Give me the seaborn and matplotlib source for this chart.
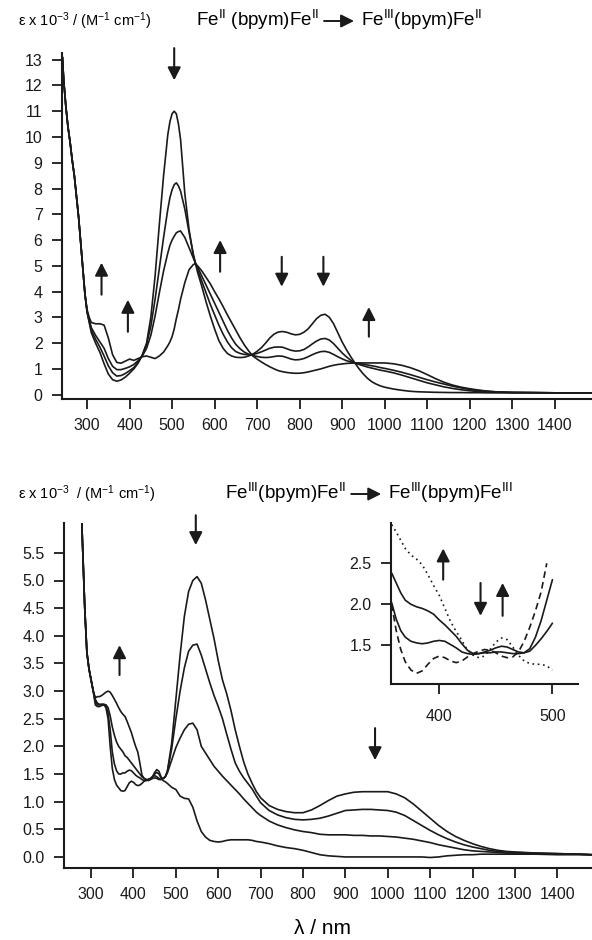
import numpy as np
import pandas as pd
import matplotlib
matplotlib.use("Agg")
import matplotlib.pyplot as plt
import seaborn as sns
from matplotlib.patches import FancyArrowPatch
from matplotlib.ticker import FormatStrFormatter

# ---------------- data: top panel (Fe(II)Fe(II) -> Fe(III)Fe(II)) ----------------
TOP_WL = [242, 245, 250, 255, 260, 265, 270, 275, 280, 285, 290, 295,
          300, 305, 310, 320, 330, 340, 350, 360, 370, 380, 390, 400, 410, 420, 430,
          440, 450, 460, 470, 480, 490, 495, 500, 505, 510, 515, 520, 530, 540, 550, 555,
          560, 570, 580, 590, 600, 610, 620, 630, 640, 650, 660, 670, 680, 690,
          700, 710, 720, 730, 740, 750, 760, 770, 780, 790, 800, 810, 820, 830, 840, 850,
          860, 870, 880, 890, 900, 910, 920, 930, 940, 950, 960, 970, 980, 990, 1000,
          1020, 1040, 1060, 1080, 1100, 1120, 1140, 1160, 1180, 1200, 1220, 1240, 1260, 1280, 1300,
          1350, 1400, 1450, 1488]
TOP_UV = [13.1, 12.2, 11.2, 10.4, 9.8, 9.1, 8.5, 7.7, 6.9, 5.9, 4.9, 3.9]

top_a = TOP_UV + [3.2, 2.8, 2.4, 2.0, 1.65, 1.2, 0.8, 0.58, 0.52, 0.57, 0.68, 0.83, 1.0, 1.22, 1.55,
                  2.0, 3.0, 4.6, 6.6, 8.5, 10.1, 10.6, 10.9, 11.0, 10.9, 10.5, 9.9, 7.8, 6.4, 5.4, 5.1,
                  4.75, 4.2, 3.6, 3.05, 2.55, 2.1, 1.8, 1.6, 1.5, 1.45, 1.44, 1.45, 1.5, 1.57,
                  1.68, 1.82, 2.0, 2.2, 2.35, 2.43, 2.45, 2.42, 2.36, 2.32, 2.34, 2.42, 2.55, 2.75, 2.95, 3.08,
                  3.12, 3.0, 2.75, 2.4, 2.05, 1.75, 1.48, 1.23, 1.0, 0.8, 0.63, 0.5, 0.41, 0.34, 0.29,
                  0.22, 0.17, 0.13, 0.11, 0.1, 0.09, 0.085, 0.08, 0.08, 0.075, 0.075, 0.07, 0.07, 0.07, 0.07,
                  0.07, 0.07, 0.07, 0.07]
top_b = TOP_UV + [3.22, 2.85, 2.5, 2.15, 1.85, 1.5, 1.12, 0.85, 0.72, 0.74, 0.82, 0.93, 1.05, 1.25, 1.52,
                  1.95, 2.65, 3.7, 4.9, 6.1, 7.2, 7.65, 7.95, 8.15, 8.22, 8.1, 7.9, 7.2, 6.3, 5.45, 5.1,
                  4.85, 4.4, 3.95, 3.5, 3.1, 2.7, 2.35, 2.05, 1.82, 1.67, 1.6, 1.56, 1.55, 1.56,
                  1.6, 1.66, 1.73, 1.8, 1.84, 1.85, 1.84, 1.78, 1.72, 1.69, 1.7, 1.75, 1.85, 1.97, 2.08, 2.16,
                  2.18, 2.12, 1.98, 1.8, 1.62, 1.47, 1.34, 1.23, 1.17, 1.12, 1.07, 1.03, 0.99, 0.95, 0.92,
                  0.85, 0.76, 0.66, 0.56, 0.46, 0.38, 0.3, 0.24, 0.19, 0.15, 0.12, 0.1, 0.09, 0.085, 0.08,
                  0.075, 0.07, 0.07, 0.07]
top_c = TOP_UV + [3.24, 2.9, 2.6, 2.3, 2.05, 1.8, 1.4, 1.1, 0.97, 0.97, 1.02, 1.08, 1.17, 1.32, 1.5,
                  1.8, 2.3, 3.05, 3.95, 4.8, 5.5, 5.8, 6.0, 6.15, 6.28, 6.33, 6.35, 6.1, 5.7, 5.3, 5.1,
                  4.95, 4.6, 4.25, 3.9, 3.55, 3.2, 2.85, 2.5, 2.2, 1.95, 1.78, 1.65, 1.57, 1.52,
                  1.48, 1.45, 1.44, 1.45, 1.48, 1.5, 1.49, 1.44, 1.38, 1.35, 1.36, 1.4, 1.47, 1.55, 1.62, 1.67,
                  1.68, 1.64, 1.56, 1.47, 1.39, 1.32, 1.27, 1.23, 1.21, 1.18, 1.15, 1.12, 1.09, 1.05, 1.02,
                  0.95, 0.87, 0.78, 0.68, 0.58, 0.49, 0.41, 0.33, 0.26, 0.2, 0.16, 0.13, 0.11, 0.095, 0.085,
                  0.08, 0.07, 0.07, 0.07]
top_d = TOP_UV + [3.3, 3.0, 2.8, 2.75, 2.75, 2.7, 2.2, 1.55, 1.25, 1.22, 1.3, 1.38, 1.33, 1.4, 1.47,
                  1.5, 1.45, 1.4, 1.5, 1.65, 1.9, 2.05, 2.25, 2.55, 2.95, 3.3, 3.7, 4.35, 4.85, 5.05, 5.08,
                  5.0, 4.8, 4.55, 4.3, 4.0, 3.72, 3.42, 3.1, 2.8, 2.5, 2.2, 1.93, 1.7, 1.5,
                  1.38, 1.27, 1.17, 1.08, 1.0, 0.93, 0.89, 0.86, 0.84, 0.83, 0.83, 0.85, 0.88, 0.92, 0.96, 1.0,
                  1.05, 1.1, 1.14, 1.17, 1.19, 1.21, 1.22, 1.23, 1.23, 1.23, 1.23, 1.23, 1.23, 1.23, 1.23,
                  1.2, 1.14, 1.05, 0.93, 0.78, 0.62, 0.48, 0.37, 0.29, 0.23, 0.18, 0.14, 0.11, 0.1, 0.09,
                  0.08, 0.07, 0.07, 0.07]

# ---------------- data: bottom panel (Fe(III)Fe(II) -> Fe(III)Fe(III)) ----------------
BOT_WL = [276, 280, 285, 290, 295, 300, 305,
          310, 315, 320, 325, 330, 335, 340, 345, 350, 355, 360, 365, 370, 375, 380, 385, 390, 395,
          400, 405, 410, 415, 420, 425, 430, 435, 440, 445, 450, 455, 460, 465, 470, 475, 480,
          490, 500, 510, 520, 530, 540, 550, 560, 570, 580, 590, 600, 610, 620, 630, 640, 650, 660,
          670, 680, 690, 700,
          720, 740, 760, 780, 800, 820, 840, 860, 880, 900, 920, 940, 960, 980, 1000, 1020, 1040,
          1060, 1080, 1100, 1120, 1140, 1160, 1180, 1200, 1220, 1240, 1260, 1280, 1300,
          1350, 1400, 1450, 1482]
BOT_UV = [6.5, 5.6, 4.5, 3.7, 3.4, 3.2, 3.0]

bot_p = BOT_UV + [2.88, 2.9, 2.9, 2.92, 2.95, 2.98, 3.0, 2.98, 2.92, 2.85, 2.78, 2.7, 2.63, 2.58, 2.54,
                  2.45, 2.35, 2.25, 2.12, 2.0, 1.9, 1.7, 1.48, 1.42, 1.4, 1.38, 1.4, 1.42, 1.43, 1.42,
                  1.4, 1.4, 1.42, 1.45, 1.55,
                  2.05, 2.85, 3.65, 4.35, 4.8, 5.0, 5.07, 4.95, 4.65, 4.3, 3.95, 3.55, 3.2, 2.95, 2.65,
                  2.3, 2.0, 1.72, 1.5, 1.33, 1.18, 1.07,
                  0.93, 0.86, 0.82, 0.8, 0.8, 0.85, 0.93, 1.02, 1.1, 1.14, 1.17, 1.18, 1.18, 1.18, 1.18,
                  1.14, 1.07, 0.96, 0.83, 0.7, 0.57, 0.46, 0.37, 0.3, 0.24, 0.19, 0.15, 0.12, 0.1, 0.09,
                  0.07, 0.06, 0.05, 0.04]
bot_q = BOT_UV + [2.85, 2.78, 2.76, 2.76, 2.76, 2.75, 2.7, 2.55, 2.35, 2.2, 2.08, 2.0, 1.95, 1.9, 1.83,
                  1.8, 1.75, 1.7, 1.65, 1.6, 1.55, 1.5, 1.45, 1.42, 1.4, 1.4, 1.42, 1.45, 1.5, 1.53,
                  1.5, 1.43, 1.42, 1.45, 1.55,
                  1.95, 2.5, 3.0, 3.42, 3.72, 3.83, 3.85, 3.65, 3.4, 3.15, 2.92, 2.72, 2.5, 2.22, 1.95,
                  1.7, 1.55, 1.43, 1.33, 1.23, 1.1, 0.98,
                  0.84, 0.76, 0.71, 0.68, 0.67, 0.68, 0.7, 0.74, 0.79, 0.84, 0.85, 0.86, 0.86, 0.85, 0.84,
                  0.81, 0.75, 0.66, 0.57, 0.48, 0.4, 0.33, 0.27, 0.22, 0.18, 0.15, 0.12, 0.1, 0.09, 0.08,
                  0.07, 0.06, 0.05, 0.04]
bot_r = BOT_UV + [2.8, 2.75, 2.75, 2.76, 2.76, 2.74, 2.6, 2.3, 1.9, 1.68, 1.56, 1.5, 1.5, 1.52, 1.52,
                  1.55, 1.57, 1.56, 1.52, 1.48, 1.45, 1.43, 1.4, 1.38, 1.38, 1.4, 1.42, 1.45, 1.47, 1.45,
                  1.42, 1.4, 1.42, 1.45, 1.52,
                  1.75, 1.98, 2.15, 2.3, 2.4, 2.42, 2.3, 2.0, 1.88, 1.76, 1.64, 1.55, 1.46, 1.38, 1.3,
                  1.22, 1.14, 1.05, 0.97, 0.89, 0.81, 0.75,
                  0.65, 0.58, 0.53, 0.49, 0.46, 0.44, 0.41, 0.4, 0.4, 0.4, 0.39, 0.39, 0.38, 0.38, 0.37,
                  0.36, 0.34, 0.32, 0.29, 0.26, 0.22, 0.19, 0.16, 0.13, 0.11, 0.1, 0.09, 0.08, 0.07, 0.07,
                  0.06, 0.05, 0.05, 0.04]
bot_s = BOT_UV + [2.75, 2.72, 2.72, 2.74, 2.75, 2.7, 2.5, 2.0, 1.6, 1.4, 1.3, 1.25, 1.2, 1.19, 1.2,
                  1.27, 1.34, 1.37, 1.35, 1.31, 1.29, 1.3, 1.33, 1.37, 1.39, 1.4, 1.41, 1.45, 1.53, 1.58,
                  1.55, 1.45, 1.38, 1.36, 1.33,
                  1.26, 1.22, 1.1, 1.06, 1.05, 0.9, 0.65, 0.46, 0.36, 0.3, 0.28, 0.27, 0.28, 0.3, 0.31,
                  0.31, 0.31, 0.31, 0.31, 0.3, 0.28, 0.27,
                  0.24, 0.2, 0.17, 0.15, 0.12, 0.08, 0.04, 0.02, 0.01, 0.0, 0.0, 0.0, 0.0, 0.0, 0.0,
                  0.0, 0.0, 0.0, 0.0, -0.01, 0.0, 0.02, 0.03, 0.04, 0.04, 0.05, 0.05, 0.05, 0.05, 0.05,
                  0.05, 0.04, 0.04, 0.04]

# ---------------- data: inset ----------------
INS_WL = [358, 362, 366, 370, 375, 380, 385, 390, 395, 400, 405, 410, 415, 420, 425,
          430, 435, 440, 445, 450, 455, 460, 465, 470, 475, 480, 485, 490, 495, 500]
ins_dotted = [2.97, 2.88, 2.78, 2.68, 2.6, 2.55, 2.48, 2.36, 2.23, 2.11, 1.95, 1.79, 1.67, 1.56, 1.44,
              1.38, 1.35, 1.37, 1.45, 1.54, 1.59, 1.57, 1.48, 1.38, 1.31, 1.28, 1.27, 1.27, 1.25, 1.2]
ins_solid1 = [2.38, 2.26, 2.14, 2.05, 2.0, 1.97, 1.95, 1.92, 1.88, 1.81, 1.75, 1.68, 1.61, 1.52, 1.44,
              1.4, 1.4, 1.41, 1.41, 1.42, 1.42, 1.41, 1.4, 1.4, 1.41, 1.43, 1.5, 1.58, 1.67, 1.77]
ins_solid2 = [2.02, 1.82, 1.68, 1.6, 1.55, 1.53, 1.52, 1.53, 1.55, 1.56, 1.55, 1.51, 1.47, 1.42, 1.4,
              1.39, 1.4, 1.42, 1.44, 1.47, 1.49, 1.48, 1.45, 1.42, 1.41, 1.46, 1.6, 1.8, 2.05, 2.3]
ins_dashed = [2.0, 1.68, 1.45, 1.3, 1.2, 1.16, 1.19, 1.27, 1.34, 1.37, 1.35, 1.31, 1.29, 1.31, 1.36,
              1.4, 1.43, 1.45, 1.44, 1.41, 1.37, 1.35, 1.36, 1.42, 1.55, 1.72, 1.92, 2.15, 2.5, np.nan]

TOP_XTICKS = list(range(300, 1500, 100))
TOP_YTICKS = list(range(0, 14))
BOT_YTICKS = [0.0, 0.5, 1.0, 1.5, 2.0, 2.5, 3.0, 3.5, 4.0, 4.5, 5.0, 5.5]
INS_XTICKS = [400, 500]
INS_YTICKS = [1.5, 2.0, 2.5]

# arrows: (wavelength, tail, head)
TOP_ARROWS = [(505, 13.45, 12.2), (334, 3.88, 5.12), (396, 2.44, 3.68), (613, 4.77, 6.0),
              (758, 5.35, 4.19), (856, 5.35, 4.19), (963, 2.25, 3.4)]
BOT_ARROWS = [(367, 3.29, 3.83), (547, 6.18, 5.64), (970, 2.33, 1.75)]
INS_ARROWS = [(403.5, 2.3, 2.68), (436.5, 2.26, 1.86), (456, 1.86, 2.26)]

# ---------------- style ----------------
sns.set_theme(style="ticks")
plt.rcParams["font.family"] = ["Liberation Sans", "DejaVu Sans"]
plt.rcParams["mathtext.fontset"] = "custom"
plt.rcParams["mathtext.rm"] = "Liberation Sans"
plt.rcParams["mathtext.it"] = "Liberation Sans:italic"
plt.rcParams["mathtext.bf"] = "Liberation Sans:bold"
plt.rcParams["mathtext.default"] = "regular"
plt.rcParams["text.color"] = "black"
plt.rcParams["axes.labelcolor"] = "black"
plt.rcParams["xtick.color"] = "black"
plt.rcParams["ytick.color"] = "black"

W, H = 592, 940
fig = plt.figure(figsize=(W / 100, H / 100), dpi=100)
fig.patch.set_facecolor("white")


def px_axes(l, t, r, b):
    return fig.add_axes([l / W, 1 - b / H, (r - l) / W, (b - t) / H])


ax1 = px_axes(62, 53, 592, 398.5)
ax2 = px_axes(64, 523, 592, 868)
axi = px_axes(391, 523, 578, 684)


def style(ax, lw=1.5, labelsize=11.5):
    ax.set_facecolor("none")
    ax.grid(False)
    for s in ["top", "right"]:
        ax.spines[s].set_visible(False)
    for s in ["left", "bottom"]:
        ax.spines[s].set_linewidth(lw)
        ax.spines[s].set_color("k")
    ax.tick_params(direction="out", length=7, width=1.3, pad=7, labelsize=labelsize,
                   colors="k", labelcolor="k")
    ax.set_xlabel("")
    ax.set_ylabel("")


LW = 1.2

top_df = pd.DataFrame({
    "wl": TOP_WL * 4,
    "eps": top_a + top_b + top_c + top_d,
    "spec": ["a"] * len(TOP_WL) + ["b"] * len(TOP_WL) + ["c"] * len(TOP_WL) + ["d"] * len(TOP_WL),
})
sns.lineplot(data=top_df, x="wl", y="eps", units="spec", estimator=None, color="k",
             lw=LW, ax=ax1, legend=False)

bot_df = pd.DataFrame({
    "wl": BOT_WL * 4,
    "eps": bot_p + bot_q + bot_r + bot_s,
    "spec": ["p"] * len(BOT_WL) + ["q"] * len(BOT_WL) + ["r"] * len(BOT_WL) + ["s"] * len(BOT_WL),
})
sns.lineplot(data=bot_df, x="wl", y="eps", units="spec", estimator=None, color="k",
             lw=LW, ax=ax2, legend=False)

ins_df = pd.DataFrame({
    "wl": INS_WL * 4,
    "eps": ins_dotted + ins_solid1 + ins_solid2 + ins_dashed,
    "spec": ["dotted"] * len(INS_WL) + ["solid1"] * len(INS_WL) + ["solid2"] * len(INS_WL)
            + ["dashed"] * len(INS_WL),
}).dropna()
sns.lineplot(data=ins_df, x="wl", y="eps", style="spec",
             dashes={"dotted": (1, 2.2), "solid1": "", "solid2": "", "dashed": (4, 2.5)},
             color="k", lw=LW, ax=axi, legend=False, estimator=None)

# axes setup
style(ax1)
ax1.set_xlim(241, 1488)
ax1.set_ylim(-0.15, 13.26)
ax1.set_xticks(TOP_XTICKS)
ax1.set_yticks(TOP_YTICKS)

style(ax2)
ax2.set_xlim(236, 1482)
ax2.set_ylim(-0.2, 6.04)
ax2.set_xticks(TOP_XTICKS)
ax2.set_yticks(BOT_YTICKS)
ax2.yaxis.set_major_formatter(FormatStrFormatter("%.1f"))

style(axi)
axi.set_xlim(357.4, 522.6)
axi.set_ylim(1.03, 2.99)
axi.set_xticks(INS_XTICKS)
axi.set_yticks(INS_YTICKS)
axi.yaxis.set_major_formatter(FormatStrFormatter("%.1f"))
axi.tick_params(axis="x", pad=11)


def arrow(ax, x, y0, y1, scale=14):
    ax.annotate("", xy=(x, y1), xytext=(x, y0),
                arrowprops=dict(arrowstyle="-|>,head_length=0.55,head_width=0.28",
                                mutation_scale=scale, color="k", lw=1.5,
                                shrinkA=0, shrinkB=0),
                annotation_clip=False)


for x, t, h in TOP_ARROWS:
    arrow(ax1, x, t, h)
for x, t, h in BOT_ARROWS:
    arrow(ax2, x, t, h)
for x, t, h in INS_ARROWS:
    arrow(axi, x, t, h)

# text
YLAB = "ε x 10$^{-3}$ / (M$^{-1}$ cm$^{-1}$)"
YLAB2 = "ε x 10$^{-3}$  / (M$^{-1}$ cm$^{-1}$)"
fig.text(18 / W, 1 - 26 / H, YLAB, fontsize=10.5, ha="left", va="baseline")
fig.text(18 / W, 1 - 499 / H, YLAB2, fontsize=10.5, ha="left", va="baseline")

renderer = fig.canvas.get_renderer()


def chem_title(x0, base, left, right, size=13.5, alen=30, gap=5):
    t1 = fig.text(x0 / W, 1 - base / H, left, fontsize=size, ha="left", va="baseline")
    bb = t1.get_window_extent(renderer)
    xa = bb.x1 + gap
    ya = (H - base) + 5
    arr = FancyArrowPatch((xa / W, ya / H), ((xa + alen) / W, ya / H),
                          transform=fig.transFigure,
                          arrowstyle="-|>,head_length=0.6,head_width=0.3",
                          mutation_scale=13, color="k", lw=1.4, shrinkA=0, shrinkB=0)
    fig.add_artist(arr)
    fig.text((xa + alen + gap + 2) / W, 1 - base / H, right, fontsize=size,
             ha="left", va="baseline")


chem_title(196, 26, "Fe$^{II}$ (bpym)Fe$^{II}$", "Fe$^{III}$(bpym)Fe$^{II}$")
chem_title(225, 499, "Fe$^{III}$(bpym)Fe$^{II}$", "Fe$^{III}$(bpym)Fe$^{III}$")

fig.text(322 / W, 1 - 929 / H, "λ / nm", fontsize=15, ha="center", va="center")

fig.savefig("out.png", dpi=100, facecolor="white")
